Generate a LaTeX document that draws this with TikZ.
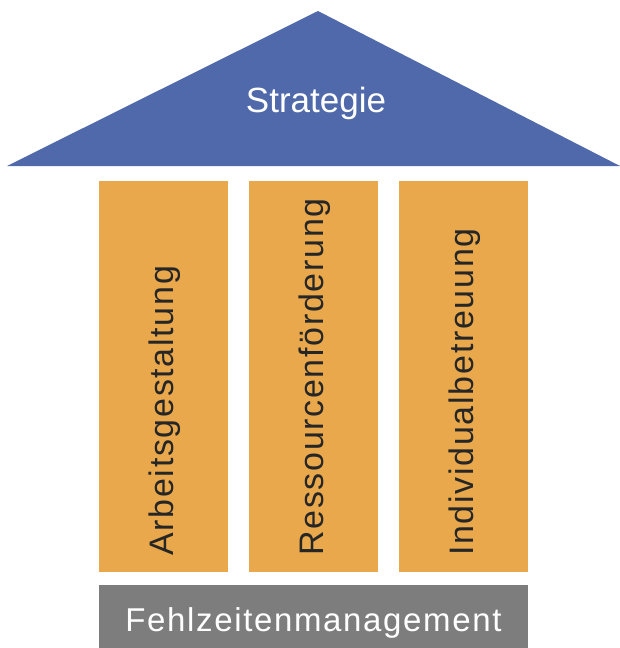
\documentclass[tikz,border=0pt]{standalone}
\usepackage{fontspec}
\setmainfont{Liberation Sans}
\definecolor{roofblue}{HTML}{4F69AA}
\definecolor{pillarorange}{HTML}{E9A84B}
\definecolor{basegray}{HTML}{7D7D7D}
\begin{document}
\begin{tikzpicture}[x=1pt,y=-1pt,
  pillar/.style={fill=pillarorange,draw=none},
  pillartext/.style={rotate=90,anchor=west,inner sep=0pt,text=black!85,
    font=\fontsize{34}{36}\selectfont\addfontfeature{LetterSpace=5}},
  rooftext/.style={anchor=base,inner sep=0pt,text=white,font=\fontsize{35}{40}\selectfont},
  basetext/.style={anchor=base,inner sep=0pt,text=white,
    font=\fontsize{33}{38}\selectfont\addfontfeature{LetterSpace=5}}]
\useasboundingbox (0,0) rectangle (620,648);
% roof
\fill[roofblue] (318,11) -- (620,166) -- (7,166) -- cycle;
\node[rooftext] (roof) at (316,112) {Strategie};
% pillars
\fill[pillar] (99,181) rectangle (228,572);
\fill[pillar] (249,181) rectangle (378,572);
\fill[pillar] (399,181) rectangle (528,572);
\node[pillartext] (p1) at (165,556) {Arbeitsgestaltung};
\node[pillartext] (p2) at (315,556) {Ressourcenförderung};
\node[pillartext] (p3) at (465,556) {Individualbetreuung};
% base
\fill[basegray] (99,585) rectangle (528,648);
\node[basetext] (base) at (313.5,631) {Fehlzeitenmanagement};
\end{tikzpicture}
\end{document}
